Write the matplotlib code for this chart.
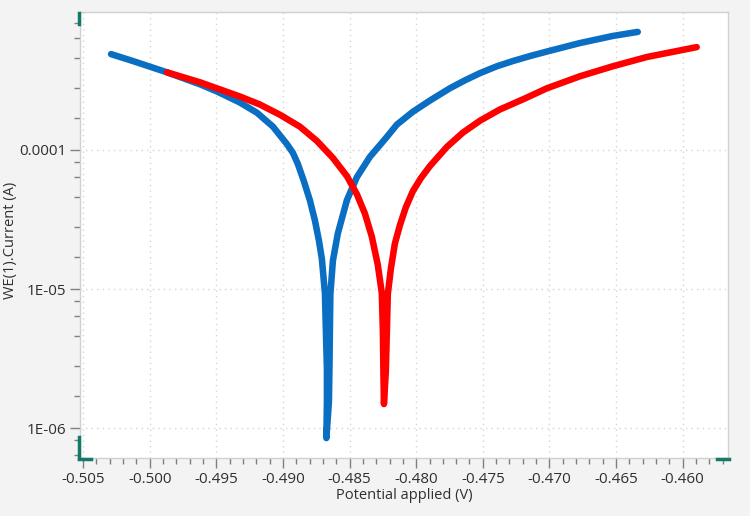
import matplotlib
matplotlib.use("Agg")
import matplotlib.pyplot as plt
from matplotlib.ticker import FixedLocator, FuncFormatter, MultipleLocator
from matplotlib.lines import Line2D

# data (potential in V, current in A)
blue_v = [-0.5029, -0.50125, -0.4987, -0.49622, -0.49495, -0.49323, -0.49195, -0.49075, -0.4897,
          -0.48925, -0.48888, -0.48843, -0.48798, -0.4876, -0.4873, -0.48708, -0.48685, -0.48677,
          -0.4867, -0.4867, -0.48674, -0.48655, -0.48651, -0.48648, -0.48644, -0.48625, -0.48588,
          -0.4852, -0.48445, -0.48348, -0.4822, -0.48145, -0.48025, -0.47898, -0.47748, -0.47635,
          -0.47522, -0.47395, -0.47275, -0.47148, -0.4702, -0.46772, -0.46525, -0.46337]
blue_i = [4.88e-4, 4.35e-4, 3.61e-4, 2.96e-4, 2.63e-4, 2.19e-4, 1.85e-4, 1.47e-4, 1.10e-4,
          9.51e-5, 7.92e-5, 5.96e-5, 4.35e-5, 3.11e-5, 2.23e-5, 1.65e-5, 9.35e-6, 4.72e-6,
          2.68e-6, 1.54e-6, 8.48e-7, 1.54e-6, 2.68e-6, 4.72e-6, 9.2e-6, 1.6e-5, 2.51e-5,
          4.35e-5, 6.37e-5, 8.9e-5, 1.24e-4, 1.52e-4, 1.88e-4, 2.26e-4, 2.77e-4, 3.16e-4,
          3.56e-4, 3.99e-4, 4.35e-4, 4.72e-4, 5.09e-4, 5.86e-4, 6.59e-4, 7.05e-4]

red_v = [-0.4987, -0.49622, -0.49323, -0.49173, -0.49023, -0.48873, -0.48745, -0.48625, -0.4852,
         -0.48445, -0.48385, -0.48333, -0.48288, -0.48258, -0.4825, -0.48246, -0.48242, -0.48228,
         -0.4822, -0.48213, -0.4819, -0.4816, -0.48123, -0.48078, -0.48025, -0.47965, -0.47897,
         -0.4777, -0.4765, -0.47522, -0.47373, -0.47185, -0.4702, -0.46772, -0.46525, -0.4627,
         -0.45895]
red_i = [3.61e-4, 3.06e-4, 2.42e-4, 2.12e-4, 1.79e-4, 1.47e-4, 1.16e-4, 8.75e-5, 6.48e-5,
         4.80e-5, 3.49e-5, 2.38e-5, 1.49e-5, 9.35e-6, 4.97e-6, 2.55e-6, 1.49e-6, 2.55e-6,
         4.97e-6, 9.2e-6, 1.40e-5, 2.12e-5, 2.86e-5, 3.86e-5, 5.05e-5, 6.26e-5, 7.65e-5,
         1.05e-4, 1.33e-4, 1.62e-4, 1.95e-4, 2.34e-4, 2.77e-4, 3.38e-4, 3.99e-4, 4.65e-4,
         5.48e-4]

y_major = [1e-6, 1e-5, 1e-4]
y_labels = {1e-6: "1E-06", 1e-5: "1E-05", 1e-4: "0.0001"}
y_minor_steps = [1.7, 2.8, 4.6, 6.4, 8.2]

plt.rcParams['font.family'] = ['Open Sans', 'DejaVu Sans']

fig = plt.figure(figsize=(7.5, 5.16), dpi=100, facecolor="#f3f3f3")
ax = fig.add_axes([80/750, 58/516, 648/750, 446/516])
ax.set_facecolor("white")

ax.plot(blue_v, blue_i, color="#0a6fc2", lw=4.7, solid_capstyle="round", solid_joinstyle="round")
ax.plot(red_v, red_i, color="#ff0000", lw=4.7, solid_capstyle="round", solid_joinstyle="round")

ax.set_yscale("log")
ax.set_xlim(-0.50523, -0.4566)
ax.set_ylim(6.1e-7, 9.8e-4)

ax.xaxis.set_major_locator(MultipleLocator(0.005))
ax.xaxis.set_minor_locator(MultipleLocator(0.001))
ax.xaxis.set_major_formatter(FuncFormatter(lambda v, p: f"{v:.3f}"))

minor_y = [k * dec for dec in [1e-7, 1e-6, 1e-5, 1e-4] for k in y_minor_steps]
ax.yaxis.set_major_locator(FixedLocator(y_major))
ax.yaxis.set_minor_locator(FixedLocator(minor_y))
ax.yaxis.set_major_formatter(FuncFormatter(lambda v, p: y_labels.get(v, "")))
ax.yaxis.set_minor_formatter(FuncFormatter(lambda v, p: ""))

ax.grid(True, which="major", color="#d4d4d4", linestyle=(0, (1, 3)), lw=1)
for s in ax.spines.values():
    s.set_color("#d0d0d0")
    s.set_linewidth(1)

ax.tick_params(which="major", length=7, width=1, color="#808080", labelsize=11,
               labelcolor="#303030", pad=3)
ax.tick_params(which="minor", length=4, width=1, color="#808080")

ax.set_xlabel("Potential applied (V)", fontsize=10.5, color="#303030", labelpad=1)
fig.text(11/750, 1 - 240/516, "WE(1).Current (A)", rotation=90, fontsize=10.5,
         color="#303030", ha="center", va="center")

# teal axis handles
teal = "#137a6a"
tr = ax.transAxes
dx = 1.5 / 648
for xs, ys in [([-dx, -dx], [1 - 1 / 446, 1 - 12 / 446]),
               ([-dx, -dx], [0, 21 / 446]),
               ([-dx, 11 / 648], [0 - 1 / 446, 0 - 1 / 446]),
               ([1 - 11 / 648, 1 + 1 / 648], [0 - 1 / 446, 0 - 1 / 446])]:
    ax.add_line(Line2D(xs, ys, transform=tr, color=teal, lw=2.5, clip_on=False, zorder=5))

fig.savefig("out.png", dpi=100, facecolor=fig.get_facecolor())
